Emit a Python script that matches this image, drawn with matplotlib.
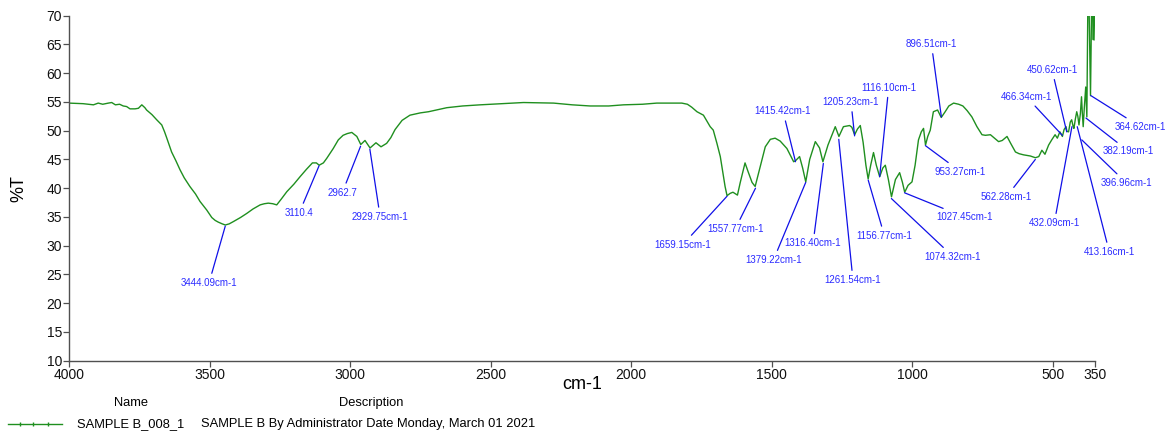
import matplotlib
matplotlib.use("Agg")
import matplotlib.pyplot as plt
from matplotlib.lines import Line2D

plt.rcParams['font.family'] = ['Liberation Sans', 'DejaVu Sans']

# spectrum (wavenumber cm-1, %T)
wavenumber = [
    4000, 3950, 3913, 3896, 3880, 3860, 3848, 3835, 3820, 3807, 3795, 3783,
    3765, 3753, 3741, 3730, 3724, 3705, 3688, 3670, 3660, 3652, 3635, 3620,
    3605, 3590, 3570, 3550, 3534, 3510, 3492, 3480, 3469, 3455, 3444, 3430,
    3415, 3390, 3368, 3345, 3320, 3305, 3291, 3275, 3261, 3245, 3225, 3200,
    3178, 3155, 3134, 3120, 3110, 3095, 3083, 3060, 3042, 3025, 3010, 2994,
    2976, 2962, 2947, 2929, 2908, 2890, 2870, 2855, 2840, 2815, 2787, 2750,
    2721, 2656, 2600, 2537, 2460, 2383, 2276, 2210, 2146, 2080, 2027, 1960,
    1909, 1850, 1820, 1800, 1785, 1766, 1743, 1719, 1708, 1695, 1683, 1675,
    1666, 1659, 1648, 1638, 1628, 1622, 1612, 1595, 1585, 1570, 1559, 1545,
    1523, 1505, 1488, 1470, 1446, 1422, 1415, 1401, 1390, 1379, 1365, 1345,
    1330, 1318, 1300, 1274, 1261, 1245, 1223, 1215, 1205, 1195, 1185, 1175,
    1165, 1157, 1148, 1138, 1128, 1116, 1105, 1096, 1085, 1074, 1060, 1045,
    1035, 1027, 1015, 1001, 990, 978, 968, 960, 953, 945, 936, 925, 910, 897,
    883, 870, 853, 835, 820, 805, 788, 770, 752, 740, 722, 705, 693, 680,
    663, 650, 633, 620, 604, 580, 562, 550, 539, 528, 515, 504, 492, 484,
    475, 466, 460, 453, 450, 444, 438, 433, 428, 425, 420, 415, 411, 407,
    402, 398, 395, 392, 388, 383, 380, 379, 374, 366, 360, 356, 353, 350,
]
transmittance = [
    54.8, 54.7, 54.5, 54.8, 54.6, 54.8, 54.9, 54.5, 54.6, 54.3, 54.2, 53.8,
    53.8, 53.9, 54.5, 54.0, 53.6, 52.8, 51.9, 51.0, 49.8, 48.7, 46.3, 44.8,
    43.2, 41.8, 40.3, 39.0, 37.7, 36.2, 34.9, 34.4, 34.1, 33.8, 33.6, 33.8,
    34.2, 34.9, 35.6, 36.4, 37.1, 37.3, 37.4, 37.3, 37.1, 38.1, 39.4, 40.7,
    42.0, 43.3, 44.4, 44.4, 44.0, 44.4, 45.2, 46.9, 48.4, 49.2, 49.5, 49.7,
    49.0, 47.6, 48.3, 47.0, 47.9, 47.2, 47.8, 48.8, 50.2, 51.8, 52.7, 53.1,
    53.3, 54.0, 54.3, 54.5, 54.7, 54.9, 54.8, 54.5, 54.3, 54.3, 54.5, 54.6,
    54.8, 54.8, 54.8, 54.6, 54.1, 53.3, 52.7, 50.7, 50.1, 47.8, 45.5, 43.0,
    40.3, 38.7, 39.1, 39.3, 39.0, 38.8, 41.0, 44.4, 43.0, 41.0, 40.3, 43.0,
    47.2, 48.5, 48.7, 48.2, 46.9, 44.6, 44.8, 45.5, 43.5, 41.1, 45.0, 48.1,
    47.0, 44.6, 47.5, 50.7, 49.0, 50.7, 50.9, 50.6, 49.3, 50.3, 50.9, 48.0,
    44.0, 41.6, 44.0, 46.2, 44.0, 42.0, 43.5, 44.0, 41.5, 38.5, 41.5, 42.7,
    41.0, 39.3, 40.5, 41.1, 44.0, 48.4, 49.8, 50.4, 47.5, 49.0, 50.1, 53.3,
    53.6, 52.3, 53.3, 54.3, 54.8, 54.6, 54.3, 53.5, 52.4, 50.7, 49.3, 49.2,
    49.3, 48.6, 48.1, 48.3, 49.0, 47.8, 46.3, 46.0, 45.8, 45.6, 45.3, 45.5,
    46.6, 45.9, 47.5, 48.4, 49.3, 48.7, 49.8, 49.0, 50.2, 50.7, 49.9, 49.8,
    51.5, 51.9, 50.8, 50.4, 52.0, 53.3, 52.5, 51.0, 53.0, 55.9, 53.0, 50.7,
    54.0, 57.6, 54.0, 52.4, 80.0, 56.1, 80.0, 65.8, 80.0, 65.8,
]

# peak picks: label, wavenumber, %T at the pick
peak_labels = [
    "3444.09cm-1", "3110.4", "2962.7", "2929.75cm-1", "1659.15cm-1",
    "1557.77cm-1", "1379.22cm-1", "1316.40cm-1", "1261.54cm-1", "1415.42cm-1",
    "1205.23cm-1", "1116.10cm-1", "896.51cm-1", "1156.77cm-1", "1074.32cm-1",
    "1027.45cm-1", "953.27cm-1", "562.28cm-1", "466.34cm-1", "450.62cm-1",
    "432.09cm-1", "413.16cm-1", "396.96cm-1", "382.19cm-1", "364.62cm-1",
]
peak_wn = [
    3444.09, 3110.4, 2962.7, 2929.75, 1659.15, 1557.77, 1379.22, 1316.40,
    1261.54, 1415.42, 1205.23, 1116.10, 896.51, 1156.77, 1074.32, 1027.45,
    953.27, 562.28, 466.34, 450.62, 432.09, 413.16, 396.96, 382.19, 364.62,
]
peak_t = [
    33.4, 43.9, 47.3, 46.8, 38.6, 40.0, 41.0, 44.3, 48.5, 44.6, 49.1, 42.0,
    52.4, 41.4, 38.2, 39.2, 47.4, 45.0, 49.2, 49.8, 50.7, 50.7, 48.4, 52.2,
    56.1,
]

# where each pick label sits (layout only)
label_pos = [
    (3502, 23.5), (3181, 35.7), (3028, 39.2), (2893, 35.0), (1816, 30.2),
    (1630, 32.9), (1494, 27.5), (1353, 30.4), (1211, 24.0), (1460, 53.4),
    (1218, 55.0), (1084, 57.5), (932, 65.1), (1099, 31.7), (855, 28.1),
    (815, 35.0), (829, 42.9), (665, 38.5), (594, 55.9), (503, 60.6),
    (495, 33.9), (299, 28.9), (238, 40.9), (230, 46.4), (189, 50.7),
]

W, H = 1167, 432
fig = plt.figure(figsize=(W / 100, H / 100), dpi=100)
ax = fig.add_axes([69 / W, 1 - 360.7 / H, (1095 - 69) / W, (360.7 - 15.7) / H])

ax.plot(wavenumber, transmittance, color="#1f8f1f", lw=1.0)

for lab, x, y, (tx, ty) in zip(peak_labels, peak_wn, peak_t, label_pos):
    ax.annotate(lab, xy=(x, y), xytext=(tx, ty), textcoords="data",
                ha="center", va="center", fontsize=7, color="#2b2bff",
                annotation_clip=False,
                arrowprops=dict(arrowstyle="-", color="#1010e8", lw=0.9,
                                shrinkA=1.5, shrinkB=0))

ax.set_xlim(4000, 350)
ax.set_ylim(10, 70)
ax.set_xticks([4000, 3500, 3000, 2500, 2000, 1500, 1000, 500, 350])
ax.set_yticks(range(10, 71, 5))
for s in ("top", "right"):
    ax.spines[s].set_visible(False)
for s in ("left", "bottom"):
    ax.spines[s].set_color("#505050")
    ax.spines[s].set_linewidth(1.0)
ax.tick_params(axis="both", direction="out", length=4, width=0.9,
               color="#505050", labelsize=10, labelcolor="#111111", pad=1)

ax.set_xlabel("cm-1", fontsize=13)
ax.xaxis.set_label_coords(0.5, -0.07)
ax.xaxis.label.set_va("center")
ax.set_ylabel("%T", fontsize=13)
ax.yaxis.set_label_coords(-0.049, 0.5)
ax.yaxis.label.set_va("center")

# legend block under the plot
fig.text(131 / W, 1 - 403 / H, "Name", ha="center", va="center", fontsize=9.3)
fig.text(371 / W, 1 - 403 / H, "Description", ha="center", va="center", fontsize=9.3)
fig.add_artist(Line2D([8 / W, 62 / W], [1 - 424 / H, 1 - 424 / H],
                      transform=fig.transFigure, color="#1f8f1f", lw=1.0))
for mx in (20, 33, 48):
    fig.add_artist(Line2D([mx / W], [1 - 424 / H], transform=fig.transFigure,
                          color="#1f8f1f", marker="|", markersize=2.5, lw=0))
fig.text(77 / W, 1 - 424 / H, "SAMPLE B_008_1", ha="left", va="center", fontsize=9.3)
fig.text(201 / W, 1 - 424 / H, "SAMPLE B By Administrator Date Monday, March 01 2021",
         ha="left", va="center", fontsize=9.3)

fig.savefig("out.png", dpi=100)
